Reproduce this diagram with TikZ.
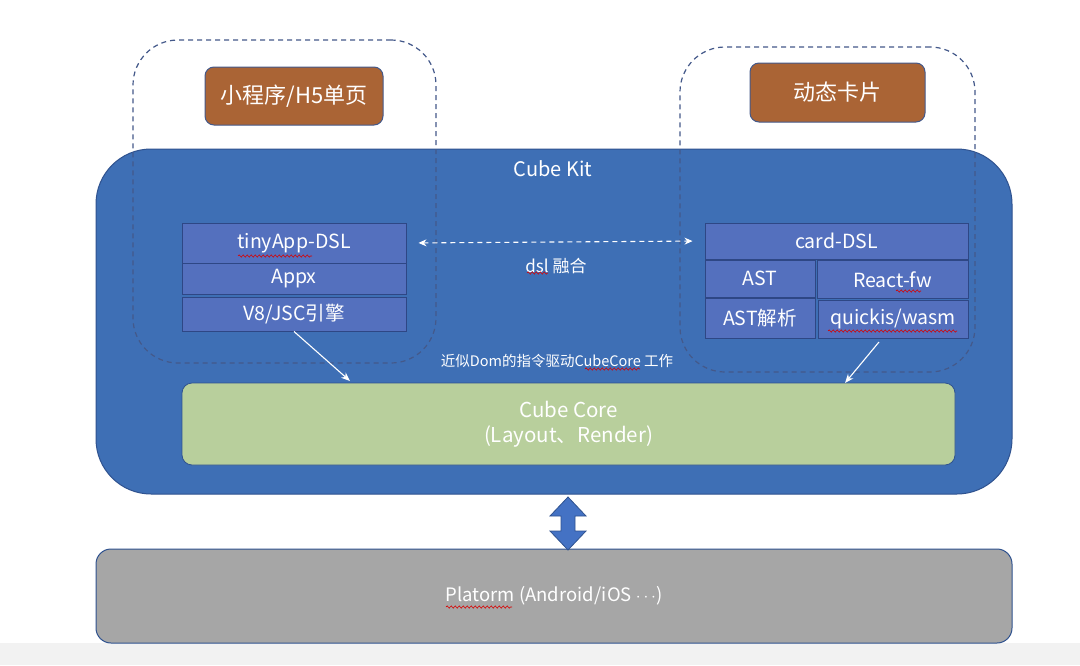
\documentclass[tikz,border=0pt]{standalone}
\usepackage{fontspec}
\setmainfont{Noto Sans CJK SC}
\usetikzlibrary{arrows.meta,decorations.pathmorphing,calc}
\definecolor{kitblue}{HTML}{3E6FB5}
\definecolor{kitborder}{HTML}{2F528F}
\definecolor{cellfill}{HTML}{5470BE}
\definecolor{cellborder}{HTML}{2E4785}
\definecolor{dashcol}{HTML}{44598A}
\definecolor{brownfill}{HTML}{AA6435}
\definecolor{greenfill}{HTML}{B8CF9C}
\definecolor{grayfill}{HTML}{A6A6A6}
\definecolor{arrowfill}{HTML}{4472C4}
\definecolor{bottomstrip}{HTML}{F2F2F2}
\tikzset{
  fs/.style={font=\fontsize{#1}{#1}\selectfont},
  dashbox/.style={draw=dashcol, line width=1.2pt, dash pattern=on 5pt off 4pt, rounded corners=45pt, inner sep=0pt},
  brownbox/.style={draw=dashcol, fill=brownfill, line width=1pt, rounded corners=9pt, text=white, inner sep=0pt, fs=22},
  cellbox/.style={draw=cellborder, fill=cellfill, line width=1pt, text=white, inner sep=0pt, fs=19.5},
  whitelabel/.style={text=white, inner sep=0pt},
  flowarrow/.style={draw=white, line width=1.1pt, -{Stealth[length=9pt,width=7pt]}},
  squiggle/.style={draw=red!85!black, line width=0.6pt, decorate, decoration={snake, amplitude=1.1pt, segment length=4pt}},
}
\begin{document}
\begin{tikzpicture}[x=1pt,y=-1pt]
\useasboundingbox (0,0) rectangle (1080,665);
\fill[white] (0,0) rectangle (1080,665);
\fill[bottomstrip] (0,643) rectangle (1080,665);

% Cube Kit
\node[draw=kitborder, fill=kitblue, line width=1pt, rounded corners=55pt, minimum width=916pt, minimum height=345pt, inner sep=0pt] (kit) at (554,321.5) {};
\node[whitelabel, fs=20] (kitlabel) at (553,169) {Cube Kit};

% Platform
\node[draw=kitborder, fill=grayfill, line width=1pt, rounded corners=15pt, minimum width=916pt, minimum height=94pt, inner sep=0pt, text=white, fs=18.5] (plat) at (554,596) {Platorm (Android/iOS $\cdots$)};

% Cube Core
\node[draw=kitborder, fill=greenfill, line width=0.8pt, rounded corners=10pt, minimum width=773pt, minimum height=82pt, inner sep=0pt, text=white, fs=20.5, align=center] (core) at (568.5,424) {Cube Core\\[5pt](Layout、Render)};

% left stack
\node[cellbox, minimum width=224pt, minimum height=40pt] (tiny) at (294,243) {tinyApp-DSL};
\node[cellbox, minimum width=224pt, minimum height=31pt] (appx) at (294,279) {Appx};
\node[cellbox, minimum width=224pt, minimum height=34pt] (v8) at (294,314) {V8/JSC引擎};

% right stack
\node[cellbox, minimum width=263pt, minimum height=36pt] (card) at (836.5,241) {card-DSL};
\node[cellbox, minimum width=110pt, minimum height=37pt] (ast) at (760,278.5) {AST};
\node[cellbox, minimum width=151pt, minimum height=38pt] (react) at (892.5,279.5) {React-fw};
\node[cellbox, minimum width=110pt, minimum height=40pt] (astp) at (760,318) {AST解析};
\node[cellbox, minimum width=150pt, minimum height=38pt] (qj) at (893,319) {quickis/wasm};

% dashed scope boxes
\node[dashbox, minimum width=303pt, minimum height=323pt] (lscope) at (284.5,201.5) {};
\node[dashbox, minimum width=295pt, minimum height=325pt] (rscope) at (827.5,209.5) {};

% brown boxes
\node[brownbox, minimum width=178pt, minimum height=58pt] (mini) at (294,96) {小程序/H5单页};
\node[brownbox, minimum width=175pt, minimum height=59pt] (dyn) at (837.5,92.5) {动态卡片};

% dsl fusion arrow
\draw[draw=white, line width=1.1pt, dash pattern=on 5pt off 4pt, {Stealth[length=8pt,width=7pt]}-{Stealth[length=8pt,width=7pt]}, shorten <=12pt, shorten >=12pt] (tiny.east) -- (card.west);
\node[whitelabel, fs=17] (fuse) at (556,266) {dsl 融合};
\node[whitelabel, fs=14.5] (drive) at (557,361) {近似Dom的指令驱动CubeCore 工作};

% flow arrows
\coordinate (coreL) at (350,381);
\coordinate (coreR) at (845,383);
\coordinate (qjout) at (879,342);
\draw[flowarrow] (v8.south) -- (coreL);
\draw[flowarrow] (qjout) -- (coreR);

% block double arrow between kit and platform
\fill[arrowfill, draw=kitborder, line width=0.8pt]
  (568,497) -- (586,516) -- (575,516) -- (575,531) -- (586,531) -- (568,550)
  -- (550,531) -- (561,531) -- (561,516) -- (550,516) -- cycle;

% spell-check squiggles
\draw[squiggle] (238,256) -- (312,256);
\draw[squiggle] (896,291) -- (921,291);
\draw[squiggle] (828,331) -- (957,331);
\draw[squiggle] (527,273) -- (548,273);
\draw[squiggle] (585,369) -- (640,369);
\draw[squiggle] (446,607) -- (512,607);
\end{tikzpicture}
\end{document}
